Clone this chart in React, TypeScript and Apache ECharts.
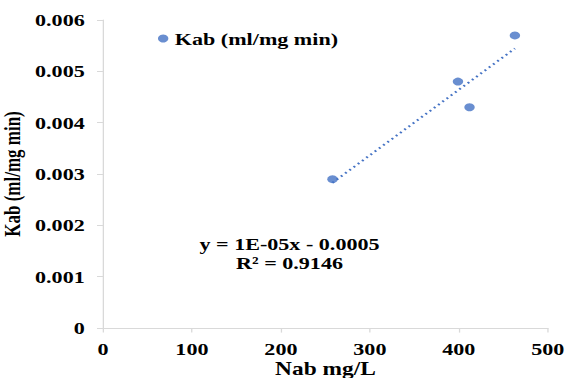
import React, { useEffect, useRef } from "react";
import * as echarts from "echarts";

// Measured samples: initial concentration (mg/L) and rate constant Kab
const nabValues = [258, 399, 412, 463];
const kabValues = [0.0029, 0.0048, 0.0043, 0.0057];
const equationLines = ["y = 1E-05x - 0.0005", "R² = 0.9146"];
const seriesName = "Kab (ml/mg min)";

// The chart is drawn narrower and widened with a CSS transform
const STRETCH = 1.3;
const WIDTH = 567;
const HEIGHT = 378;
const INNER_W = WIDTH / STRETCH;

const FONT = "'Liberation Serif', 'Times New Roman', serif";
const BLUE = "#4472C4";
const AXIS_GREY = "#d9d9d9";

// Ordinary least-squares fit through the measured points
function linearFit(xs: number[], ys: number[]) {
  const n = xs.length;
  const mx = xs.reduce((a, b) => a + b, 0) / n;
  const my = ys.reduce((a, b) => a + b, 0) / n;
  let sxy = 0;
  let sxx = 0;
  for (let i = 0; i < n; i++) {
    sxy += (xs[i] - mx) * (ys[i] - my);
    sxx += (xs[i] - mx) * (xs[i] - mx);
  }
  const slope = sxy / sxx;
  return { slope, intercept: my - slope * mx };
}

export default function App() {
  const ref = useRef<HTMLDivElement>(null);

  useEffect(() => {
    if (!ref.current) return;
    const chart = echarts.init(ref.current, undefined, { renderer: "svg" });
    const fit = linearFit(nabValues, kabValues);
    const xMin = Math.min(...nabValues);
    const xMax = Math.max(...nabValues);
    const trend = [xMin, xMax].map((x) => [x, fit.slope * x + fit.intercept]);

    const labelStyle = {
      fontFamily: FONT,
      fontWeight: "bold" as const,
      fontSize: 17,
      color: "#000",
    };

    chart.setOption({
      animation: false,
      backgroundColor: "#fff",
      grid: {
        left: 79.2,
        right: 14.6,
        top: 20,
        bottom: 50,
        containLabel: false,
        outerBoundsMode: "none",
      },
      legend: {
        data: [seriesName],
        left: 116.5,
        top: 25,
        icon: "circle",
        itemWidth: 8,
        itemHeight: 8,
        textStyle: { ...labelStyle },
      },
      xAxis: {
        type: "value",
        min: 0,
        max: 500,
        interval: 100,
        name: "Nab mg/L",
        nameLocation: "middle",
        nameGap: 32,
        nameMoveOverlap: false,
        nameTextStyle: { ...labelStyle, fontSize: 18 },
        axisLine: { show: true, lineStyle: { color: AXIS_GREY, width: 1 } },
        axisTick: { show: true, length: 4.6, lineStyle: { color: AXIS_GREY } },
        axisLabel: { ...labelStyle, margin: 12 },
        splitLine: { show: false },
      },
      yAxis: {
        type: "value",
        min: 0,
        max: 0.006,
        interval: 0.001,
        name: "Kab (ml/mg min)",
        nameLocation: "middle",
        nameGap: 61.5,
        nameMoveOverlap: false,
        nameTextStyle: { ...labelStyle },
        axisLine: { show: true, lineStyle: { color: AXIS_GREY, width: 1 } },
        axisTick: { show: true, length: 4.6, lineStyle: { color: AXIS_GREY } },
        axisLabel: {
          ...labelStyle,
          margin: 14,
          formatter: (v: number) => (v === 0 ? "0" : v.toFixed(3)),
        },
        splitLine: { show: false },
      },
      graphic: equationLines.map((line, i) => ({
        type: "text",
        x: 222.7,
        y: 235 + i * 19,
        style: {
          text: line,
          font: `bold 17px ${FONT}`,
          fill: "#000",
          textAlign: "center",
        },
      })),
      series: [
        {
          name: "Linear (Kab)",
          type: "line",
          data: trend,
          symbol: "none",
          lineStyle: { color: BLUE, width: 2, type: [1.5, 3] },
          z: 1,
        },
        {
          name: seriesName,
          type: "scatter",
          data: nabValues.map((x, i) => [x, kabValues[i]]),
          symbol: "circle",
          symbolSize: 8,
          itemStyle: { color: BLUE },
          z: 2,
        },
      ],
    });
    return () => chart.dispose();
  }, []);

  return (
    <div
      style={{
        position: "fixed",
        left: 0,
        top: 0,
        width: WIDTH,
        height: HEIGHT,
        overflow: "hidden",
        background: "#fff",
      }}
    >
      <div
        ref={ref}
        style={{
          width: INNER_W,
          height: HEIGHT,
          transform: `scaleX(${STRETCH})`,
          transformOrigin: "0 0",
        }}
      />
    </div>
  );
}
